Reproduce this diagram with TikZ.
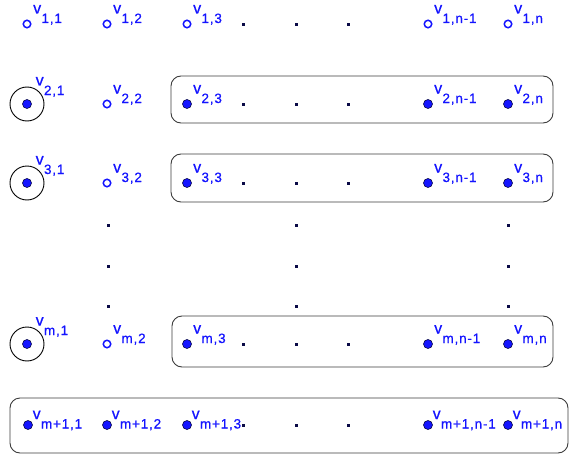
\documentclass[tikz,border=0pt]{standalone}
\usepackage{fontspec}
\newfontfamily\lblfont[LetterSpace=6,FakeBold=0.6]{Liberation Sans}
\usetikzlibrary{calc}
\definecolor{vblue}{RGB}{20,20,255}
\definecolor{vnavy}{RGB}{10,10,70}
\definecolor{grpline}{RGB}{60,60,60}
\tikzset{
  openv/.style={circle, draw=vblue, fill=white, line width=1.5pt, inner sep=0pt, minimum size=7.5pt},
  fullv/.style={circle, draw=vnavy, fill=vblue, line width=0.6pt, inner sep=0pt, minimum size=9pt},
  tdot/.style={rectangle, fill=vnavy, inner sep=0pt, minimum size=3pt},
  ringv/.style={circle, draw=black, line width=0.9pt, inner sep=0pt, minimum size=34pt},
  grp/.style={draw=grpline, line width=0.9pt, rounded corners=10pt},
  lbl/.style={anchor=base west, inner sep=0pt, text=vblue, font=\lblfont\fontsize{13.5}{14}\selectfont},
}
\newcommand\vv[1]{\raisebox{9.5pt}{\fontsize{16}{16}\selectfont v}\kern0.3pt#1}
% name, x, y, style, subscript, dx, dy
\newcommand\vx[7]{%
  \node[#4] (#1) at (#2,#3) {};
  \node[lbl] (l#1) at ([shift={(#6,#7)}]#1.center) {\vv{#5}};
}
\begin{document}
\begin{tikzpicture}[x=1pt,y=-1pt]
\useasboundingbox (0,0) rectangle (571,455);
% row 1
\vx{v11}{27}{24}{openv}{1,1}{6}{-1}
\vx{v12}{107}{24}{openv}{1,2}{6}{-1}
\vx{v13}{187}{24}{openv}{1,3}{6}{-1}
\vx{v1p}{428}{24}{openv}{1,n-1}{6}{-1}
\vx{v1n}{508}{24}{openv}{1,n}{6}{-1}
% row 2
\vx{v21}{27}{104}{fullv}{2,1}{8.5}{-9}
\vx{v22}{107}{104}{openv}{2,2}{6}{-1}
\vx{v23}{187}{104}{fullv}{2,3}{6}{-1}
\vx{v2p}{428}{104}{fullv}{2,n-1}{6}{-1}
\vx{v2n}{508}{104}{fullv}{2,n}{6}{-1}
% row 3
\vx{v31}{27}{183}{fullv}{3,1}{8.5}{-9}
\vx{v32}{107}{183}{openv}{3,2}{6}{-1}
\vx{v33}{187}{183}{fullv}{3,3}{6}{-1}
\vx{v3p}{428}{183}{fullv}{3,n-1}{6}{-1}
\vx{v3n}{508}{183}{fullv}{3,n}{6}{-1}
% row m
\vx{vm1}{27}{344}{fullv}{m,1}{8.5}{-9}
\vx{vm2}{107}{344}{openv}{m,2}{6}{-1}
\vx{vm3}{187}{344}{fullv}{m,3}{6}{-1}
\vx{vmp}{428}{344}{fullv}{m,n-1}{6}{-1}
\vx{vmn}{508}{344}{fullv}{m,n}{6}{-1}
% row m+1
\vx{vM1}{28}{425}{fullv}{m+1,1}{4.5}{3.5}
\vx{vM2}{107}{425}{fullv}{m+1,2}{4.5}{3.5}
\vx{vM3}{187}{425}{fullv}{m+1,3}{4.5}{3.5}
\vx{vMp}{428}{425}{fullv}{m+1,n-1}{4.5}{3.5}
\vx{vMn}{508}{425}{fullv}{m+1,n}{4.5}{3.5}
% rings around first column
\node[ringv] (r21) at (v21) {};
\node[ringv] (r31) at (v31) {};
\node[ringv] (rm1) at (vm1) {};
% horizontal ellipsis dots
\foreach \r/\y in {1/24,2/104,3/183,m/344,M/425}{
  \node[tdot] (h\r a) at (243,\y) {};
  \node[tdot] (h\r b) at (296,\y) {};
  \node[tdot] (h\r c) at (348,\y) {};
}
% vertical ellipsis dots
\foreach \c/\x in {a/108,b/296,c/508}{
  \node[tdot] (d\c1) at (\x,225) {};
  \node[tdot] (d\c2) at (\x,266) {};
  \node[tdot] (d\c3) at (\x,306) {};
}
% group boxes
\draw[grp] ($(v23)+(-16,-28)$) rectangle ($(v2n)+(45,19)$);
\draw[grp] ($(v33)+(-16,-29)$) rectangle ($(v3n)+(45,19)$);
\draw[grp] ($(vm3)+(-15,-28)$) rectangle ($(vmn)+(45,23)$);
\draw[grp] ($(vM1)+(-18,-27)$) rectangle ($(vMn)+(60,28)$);
\end{tikzpicture}
\end{document}
